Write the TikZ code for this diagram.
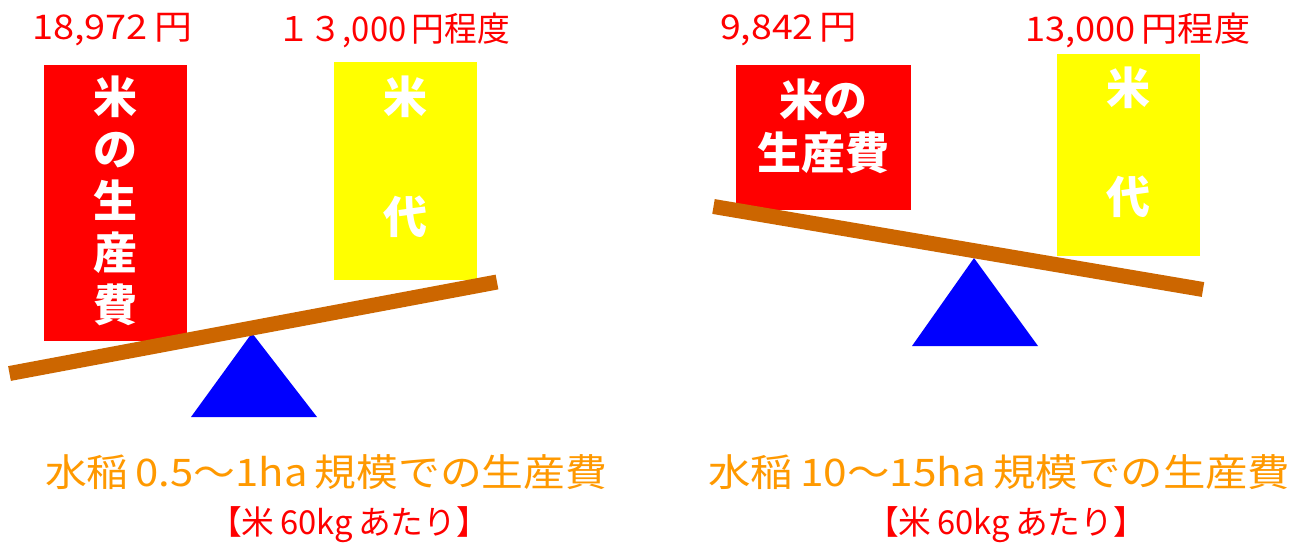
\documentclass[tikz,border=0pt]{standalone}
\usepackage{fontspec}
\usepackage{graphicx}
\newfontfamily\cjk{Noto Sans CJK JP}
\newcommand\fitw[2]{\resizebox{#1}{\height}{#2}}
\definecolor{cred}{RGB}{255,0,0}
\definecolor{cyel}{RGB}{255,255,0}
\definecolor{corange}{RGB}{255,153,0}
\definecolor{cbrown}{RGB}{204,102,0}
\definecolor{cblue}{RGB}{0,0,255}
\tikzset{
  redbox/.style={fill=cred, inner sep=0pt, anchor=north west},
  yelbox/.style={fill=cyel, inner sep=0pt, anchor=north west},
  boxtext/.style={text=white, inner sep=0pt, align=center},
  price/.style={text=cred, inner sep=0pt, anchor=west, font=\cjk\fontsize{34}{36}\selectfont},
  caption/.style={text=corange, inner sep=0pt, anchor=west, font=\cjk\fontsize{38}{40}\selectfont},
  subcap/.style={text=cred, inner sep=0pt, anchor=west, font=\cjk\fontsize{33}{34}\selectfont},
  beam/.style={draw=cbrown, line width=15pt, line cap=butt},
  fulcrum/.style={fill=cblue}
}
\begin{document}
\begin{tikzpicture}[x=1pt,y=-1pt]
\useasboundingbox[fill=white] (0,0) rectangle (1295,544);

% ---------- left panel ----------
\node[price] (p1) at (32,30) {\fitw{160pt}{18,972\,円}};
\node[price] (p2) at (277,30) {\fitw{233pt}{１３,000\,円程度}};

\node[redbox, minimum width=143pt, minimum height=276pt] (r1) at (44,65) {};
\node[yelbox, minimum width=143pt, minimum height=218pt] (y1) at (334,62) {};
\node[boxtext, font=\cjk\bfseries\fontsize{44}{52}\selectfont] (r1t) at (115.5,201) {米\\の\\生\\産\\費};
\node[boxtext, font=\cjk\bfseries\fontsize{44}{120}\selectfont] (y1t) at (405.5,157) {米\\代};

\coordinate (a1) at (252,333);
\coordinate (b1) at (191,417);
\coordinate (c1) at (317,417);
\fill[fulcrum] (a1) -- (b1) -- (c1) -- cycle;
\coordinate (bl1) at (9.5,373.5);
\coordinate (br1) at (497,282);
\draw[beam] (bl1) -- (br1);

\node[caption] (cap1) at (45,472) {\fitw{562pt}{水稲\,0.5～1ha\,規模での生産費}};
\node[subcap] (sub1) at (209,525) {\fitw{280pt}{【米\,60kg\,あたり】}};

% ---------- right panel ----------
\node[price] (p3) at (720,30) {\fitw{137pt}{9,842\,円}};
\node[price] (p4) at (1025,30) {\fitw{225pt}{13,000\,円程度}};

\node[redbox, minimum width=175pt, minimum height=145pt] (r2) at (736,65) {};
\node[yelbox, minimum width=143pt, minimum height=202pt] (y2) at (1057,54) {};
\node[boxtext, font=\cjk\bfseries\fontsize{44}{53}\selectfont] (r2t) at (823,126.5) {米の\\生産費};
\node[boxtext, font=\cjk\bfseries\fontsize{44}{109}\selectfont] (y2t) at (1128.5,142.5) {米\\代};

\coordinate (a2) at (974,258);
\coordinate (b2) at (912,346);
\coordinate (c2) at (1038,346);
\fill[fulcrum] (a2) -- (b2) -- (c2) -- cycle;
\coordinate (bl2) at (713.5,206.5);
\coordinate (br2) at (1203,289.5);
\draw[beam] (bl2) -- (br2);

\node[caption] (cap2) at (708,472) {\fitw{582pt}{水稲\,10～15ha\,規模での生産費}};
\node[subcap] (sub2) at (866,525) {\fitw{280pt}{【米\,60kg\,あたり】}};
\end{tikzpicture}
\end{document}
